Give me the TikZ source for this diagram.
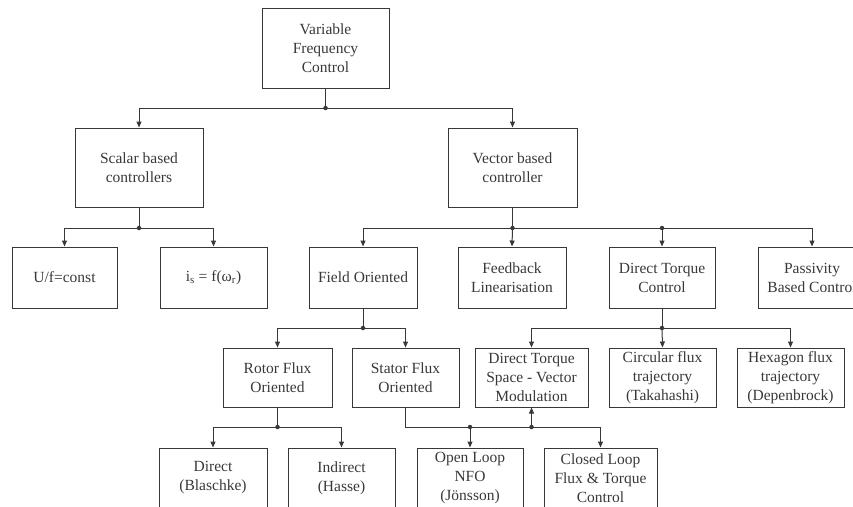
\documentclass[tikz,border=0pt]{standalone}
\usepackage{fontspec}
\setmainfont{Liberation Serif}
\usetikzlibrary{arrows.meta}
\definecolor{ink}{rgb}{0.22,0.22,0.22}
\begin{document}
\begin{tikzpicture}[x=1pt,y=-1pt,
  box/.style={draw=ink,line width=1pt,text=ink,align=center,inner sep=0pt,
    font=\fontsize{15.5}{19}\selectfont},
  arr/.style={draw=ink,line width=1pt,-{Triangle[length=6pt,width=5pt]}},
  ln/.style={draw=ink,line width=1pt},
  dot/.style={fill=ink,draw=none,circle,minimum size=4.5pt,inner sep=0pt}]
\useasboundingbox (0,0) rectangle (853,506);
\clip (0,0) rectangle (853,506);
% boxes
\node[box,minimum width=127pt,minimum height=80pt] (top) at (325.5,48) {Variable\\Frequency\\Control};
\node[box,minimum width=128pt,minimum height=79pt] (scalar) at (139,167.5) {Scalar based\\controllers};
\node[box,minimum width=129pt,minimum height=79pt] (vector) at (512.5,167.5) {Vector based\\controller};
\node[box,minimum width=105pt,minimum height=61pt] (uf) at (64.5,277.5) {U/f=const};
\node[box,minimum width=107pt,minimum height=61pt] (is) at (213.5,277.5) {i\textsubscript{s} = f(ω\textsubscript{r})};
\node[box,minimum width=108pt,minimum height=61pt] (field) at (363,277.5) {Field Oriented};
\node[box,minimum width=108pt,minimum height=61pt] (feedback) at (512,277.5) {Feedback\\Linearisation};
\node[box,minimum width=106pt,minimum height=61pt] (dtc) at (662,277.5) {Direct Torque\\Control};
\node[box,minimum width=108pt,minimum height=61pt] (passivity) at (812,277.5) {Passivity\\Based Control};
\node[box,minimum width=109pt,minimum height=59pt] (rotor) at (277.5,377.5) {Rotor Flux\\Oriented};
\node[box,minimum width=107pt,minimum height=59pt] (stator) at (405.5,377.5) {Stator Flux\\Oriented};
\node[box,minimum width=113pt,minimum height=59pt] (dtsvm) at (531.5,377.5) {Direct Torque\\Space - Vector\\Modulation};
\node[box,minimum width=107pt,minimum height=59pt] (circular) at (662.5,377.5) {Circular flux\\trajectory\\(Takahashi)};
\node[box,minimum width=107pt,minimum height=59pt] (hexagon) at (790.5,377.5) {Hexagon flux\\trajectory\\(Depenbrock)};
\node[box,minimum width=108pt,minimum height=60pt] (direct) at (213,478) {Direct\\(Blaschke)};
\node[box,minimum width=107pt,minimum height=60pt] (indirect) at (341.5,478) {Indirect\\(Hasse)};
\node[box,minimum width=106pt,minimum height=60pt] (openloop) at (470,478) {Open Loop\\NFO\\(Jönsson)};
\node[box,minimum width=113pt,minimum height=60pt] (closed) at (600.5,478) {Closed Loop\\Flux \& Torque\\Control};
% junctions
\coordinate (j1) at (325.5,108);
\coordinate (j2) at (139,228);
\coordinate (j3) at (512.5,228);
\coordinate (j4) at (662,228);
\coordinate (j5) at (363,328);
\coordinate (j6) at (277.5,427);
\coordinate (j7) at (470,427);
\coordinate (j8) at (531.5,427);
\coordinate (j9) at (662,328);
% connectors
\draw[ln] (top.south) -- (j1);
\draw[arr] (j1) -| (scalar.north);
\draw[arr] (j1) -| (vector.north);
\draw[ln] (scalar.south) -- (j2);
\draw[arr] (j2) -| (uf.north);
\draw[arr] (j2) -| (is.north);
\draw[ln] (vector.south) -- (j3);
\draw[arr] (j3) -| (field.north);
\draw[arr] (j3) -- (feedback.north);
\draw[arr] (j3) -| (passivity.north);
\draw[arr] (j4) -- (dtc.north);
\draw[ln] (field.south) -- (j5);
\draw[arr] (j5) -| (rotor.north);
\draw[arr] (j5) -| (stator.north);
\draw[ln] (rotor.south) -- (j6);
\draw[arr] (j6) -| (direct.north);
\draw[arr] (j6) -| (indirect.north);
\draw[ln] (stator.south) |- (j7);
\draw[arr] (j7) -- (openloop.north);
\draw[arr] (j7) -| (closed.north);
\draw[arr] (j8) -- (dtsvm.south);
\draw[ln] (dtc.south) -- (j9);
\draw[arr] (j9) -| (dtsvm.north);
\draw[arr] (j9) -- (circular.north);
\draw[arr] (j9) -| (hexagon.north);
% dots
\foreach \j in {j1,j2,j3,j4,j5,j6,j7,j8,j9} \node[dot] at (\j) {};
\end{tikzpicture}
\end{document}
